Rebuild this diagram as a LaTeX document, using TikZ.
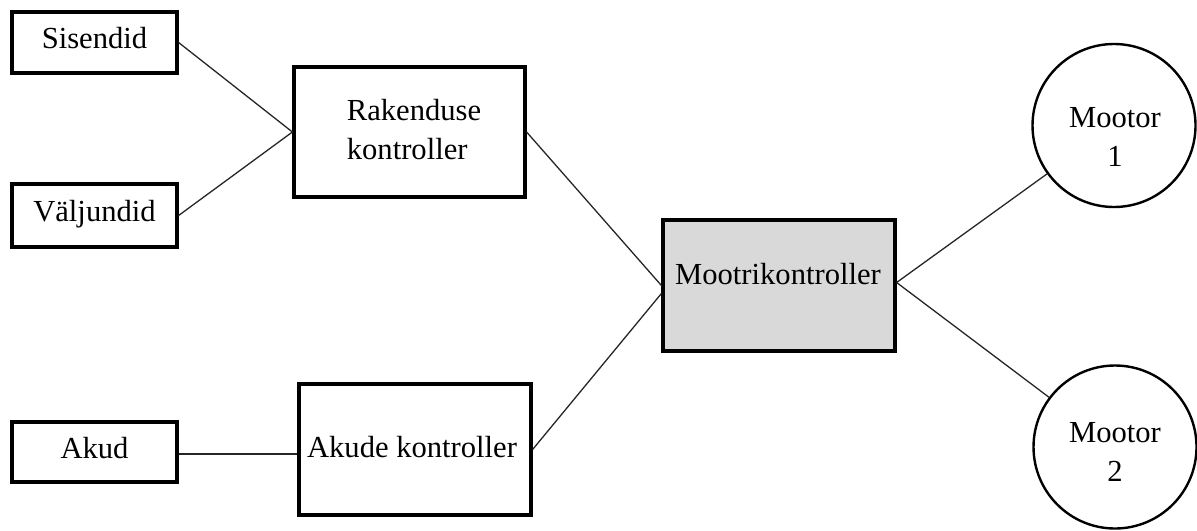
\documentclass[tikz,border=0pt]{standalone}
\usepackage{fontspec}
\setmainfont{Liberation Serif}
\begin{document}
\begin{tikzpicture}[x=0.5pt,y=-0.5pt,
  box/.style={draw=black,line width=1.6pt,fill=white,inner sep=0pt,text height=1.4ex,text depth=0pt},
  gbox/.style={box,fill=black!15},
  motor/.style={draw=black,line width=1.2pt,circle,inner sep=0pt,minimum size=81.5pt},
  lbl/.style={inner sep=0pt,align=center},
  conn/.style={draw=black!85,line width=0.65pt},
  every node/.style={font=\fontsize{15.3}{19.5}\selectfont}]
\useasboundingbox (0,0) rectangle (1197,530);
\node[box,minimum width=82.5pt,minimum height=30.5pt] (s) at (94.5,42.5) {Sisendid};
\node[box,minimum width=82.5pt,minimum height=31.5pt] (v) at (94.5,215.5) {Väljundid};
\node[box,minimum width=82.5pt,minimum height=30pt] (a) at (94.5,452) {Akud};
\node[box,minimum width=115.5pt,minimum height=65pt] (r) at (409.5,132) {};
\node[lbl,align=left] (rt) at (414,130) {Rakenduse\\kontroller};
\node[box,minimum width=116pt,minimum height=65.5pt] (ak) at (415,449.5) {};
\node[lbl] (akt) at (412,447) {Akude kontroller};
\node[gbox,minimum width=116pt,minimum height=65.5pt] (m) at (779,285.5) {};
\node[lbl] (mt) at (778,274) {Mootrikontroller};
\node[motor] (m1) at (1114,125.5) {};
\node[lbl] (m1t) at (1115,137) {Mootor\\1};
\node[motor] (m2) at (1115,447) {};
\node[lbl] (m2t) at (1115,452) {Mootor\\2};
\draw[conn] (s.east) -- (r.west);
\draw[conn] (v.east) -- (r.west);
\draw[conn] ([yshift=-1pt]a.east) -- ([yshift=-1pt]a.east -| ak.west);
\draw[conn] (r.east) -- (m.west);
\draw[conn] (ak.east) -- ([yshift=-4pt]m.west);
\draw[conn] ([yshift=1.5pt]m.east) -- (m1);
\draw[conn] ([yshift=1.5pt]m.east) -- (m2);
\end{tikzpicture}
\end{document}
